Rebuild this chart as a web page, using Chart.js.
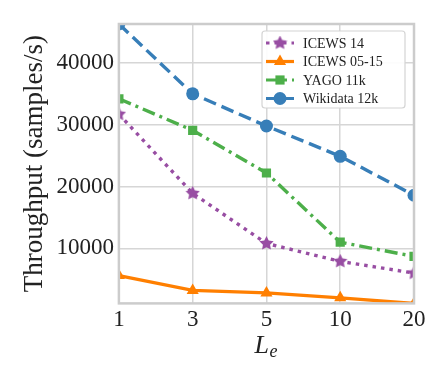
<!DOCTYPE html>
<html>
<head>
<meta charset="utf-8">
<script src="https://cdn.jsdelivr.net/npm/chart.js@4"></script>
<style>
  html, body { margin: 0; padding: 0; background: #fff; }
  #wrap { width: 448px; height: 384px; }
</style>
</head>
<body>
<div id="wrap"><canvas id="grafico" width="448" height="384"></canvas></div>
<script>
const rotulosLe = ["1", "3", "5", "10", "20"];
const icews14 = [31700, 18900, 10800, 7900, 6000];
const icews0515 = [5600, 3200, 2800, 2000, 1100];
const yago11k = [34200, 29100, 22200, 11000, 8700];
const wikidata12k = [46300, 35000, 29800, 24900, 18600];
const ticksY = [10000, 20000, 30000, 40000];

const serif = "'Liberation Serif', 'DejaVu Serif', serif";

// estrela preenchida para ICEWS 14 (o 'star' do Chart.js é só traço)
function criarEstrela(tam, cor) {
    const c = document.createElement('canvas');
    c.width = tam; c.height = tam;
    const ctx = c.getContext('2d');
    const r = tam / 2, ri = r * 0.5;
    ctx.beginPath();
    for (let i = 0; i < 10; i++) {
        const ang = -Math.PI / 2 + i * Math.PI / 5;
        const rr = i % 2 === 0 ? r : ri;
        ctx.lineTo(r + rr * Math.cos(ang), r + rr * Math.sin(ang));
    }
    ctx.closePath();
    ctx.fillStyle = cor;
    ctx.fill();
    return c;
}
const estrela = criarEstrela(15, '#984ea3');

const series = [
    { label: "ICEWS 14", data: icews14, cor: '#984ea3', dash: [3.5, 5], estilo: estrela, raio: 7 },
    { label: "ICEWS 05-15", data: icews0515, cor: '#ff7f00', dash: [], estilo: 'triangle', raio: 7 },
    { label: "YAGO 11k", data: yago11k, cor: '#4daf4a', dash: [13, 5, 3, 5], estilo: 'rect', raio: 6.5 },
    { label: "Wikidata 12k", data: wikidata12k, cor: '#377eb8', dash: [13, 6], estilo: 'circle', raio: 6.5 }
];

// legenda desenhada à mão, com caixa branca por cima da grade
const legendaCaixa = {
    id: 'legendaCaixa',
    afterDatasetsDraw(chart) {
        const ctx = chart.ctx;
        const x0 = 262, y0 = 31, w = 143, h = 77;
        ctx.save();
        ctx.beginPath();
        ctx.roundRect(x0, y0, w, h, 3);
        ctx.fillStyle = 'rgba(255,255,255,0.92)';
        ctx.fill();
        ctx.strokeStyle = '#d4d4d4';
        ctx.lineWidth = 1.2;
        ctx.stroke();
        series.forEach((s, i) => {
            const y = y0 + 12 + i * 18.5;
            ctx.beginPath();
            ctx.setLineDash(s.dash);
            ctx.strokeStyle = s.cor;
            ctx.lineWidth = 3.2;
            ctx.moveTo(x0 + 4, y);
            ctx.lineTo(x0 + 32, y);
            ctx.stroke();
            ctx.setLineDash([]);
            ctx.fillStyle = s.cor;
            ctx.beginPath();
            Chart.helpers.drawPoint(ctx, {
                pointStyle: s.estilo, radius: s.raio, rotation: 0, borderWidth: 0
            }, x0 + 18, y);
            ctx.fillStyle = '#222';
            ctx.font = "14px " + serif;
            ctx.textBaseline = 'middle';
            ctx.fillText(s.label, x0 + 41, y + 1);
        });
        ctx.restore();
    }
};

// título do eixo x: L itálico com e subscrito
const tituloX = {
    id: 'tituloX',
    afterDraw(chart) {
        const ctx = chart.ctx;
        const a = chart.chartArea;
        const cx = (a.left + a.right) / 2;
        ctx.save();
        ctx.fillStyle = '#222';
        ctx.textBaseline = 'alphabetic';
        ctx.font = "italic 26px " + serif;
        ctx.fillText("L", cx - 12, 353);
        ctx.font = "italic 18px " + serif;
        ctx.fillText("e", cx + 3, 357);
        ctx.restore();
    }
};

// borda cinza da área do gráfico
const bordaArea = {
    id: 'bordaArea',
    afterDatasetsDraw(chart) {
        const a = chart.chartArea;
        const ctx = chart.ctx;
        ctx.save();
        ctx.strokeStyle = '#cccccc';
        ctx.lineWidth = 2.5;
        ctx.strokeRect(a.left, a.top, a.right - a.left, a.bottom - a.top);
        ctx.restore();
    }
};

new Chart(document.getElementById('grafico'), {
    type: 'line',
    data: {
        labels: rotulosLe,
        datasets: series.map(s => ({
            label: s.label,
            data: s.data,
            borderColor: s.cor,
            backgroundColor: s.cor,
            borderDash: s.dash,
            borderWidth: 3.4,
            pointStyle: s.estilo,
            pointRadius: s.raio,
            pointBorderWidth: 0,
            pointHoverRadius: s.raio,
            tension: 0,
            clip: 0
        }))
    },
    options: {
        responsive: false,
        animation: false,
        layout: { padding: { left: 19, right: 34, top: 24, bottom: 47 } },
        plugins: { legend: { display: false }, tooltip: { enabled: false } },
        scales: {
            x: {
                type: 'category',
                offset: false,
                grid: { color: '#d6d6d6', lineWidth: 1.5, drawTicks: false },
                border: { display: false },
                ticks: { color: '#222', font: { family: serif, size: 23 }, padding: 3, maxRotation: 0 }
            },
            y: {
                min: 1100,
                max: 46300,
                afterBuildTicks(axis) { axis.ticks = ticksY.map(v => ({ value: v })); },
                grid: { color: '#d6d6d6', lineWidth: 1.5, drawTicks: false },
                border: { display: false },
                ticks: {
                    color: '#222', font: { family: serif, size: 23 }, padding: 5,
                    callback: v => String(v)
                },
                title: { display: true, text: "Throughput (samples/s)", color: '#222', font: { family: serif, size: 27 }, padding: { top: 0, bottom: 0 } }
            }
        }
    },
    plugins: [bordaArea, legendaCaixa, tituloX]
});
</script>
</body>
</html>
